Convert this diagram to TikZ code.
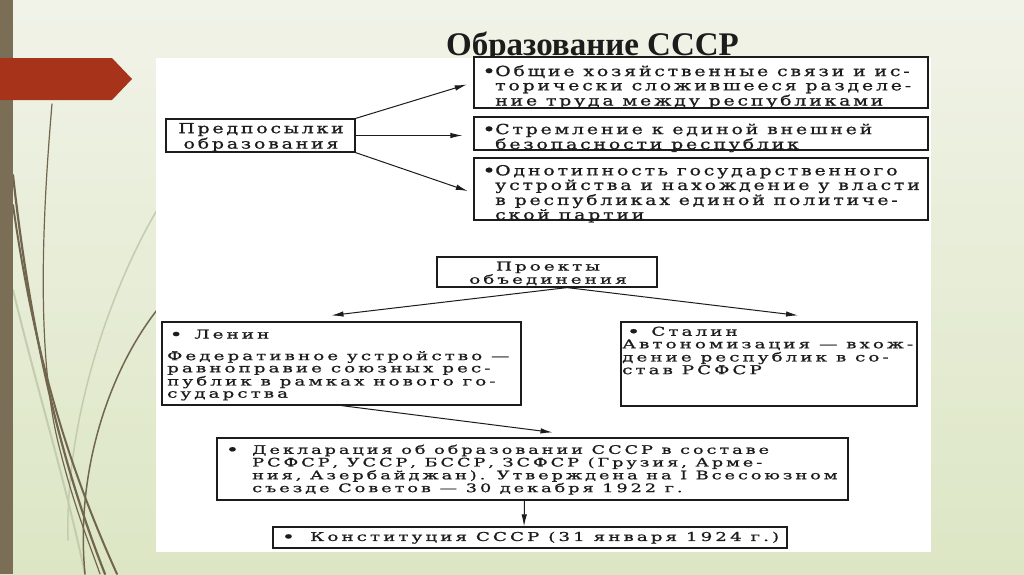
\documentclass[tikz,border=0pt]{standalone}
\usepackage{fontspec}
\setmainfont{DejaVu Serif}
\newfontfamily\titlefont{Liberation Serif}
\newfontfamily\scanA[FakeStretch=1.35,LetterSpace=20,FakeBold=0.9]{DejaVu Serif}
\newfontfamily\scanB[FakeStretch=1.5,LetterSpace=25,FakeBold=0.9]{DejaVu Serif}
\usetikzlibrary{arrows.meta,calc,fit}
\definecolor{bgtop}{HTML}{F1F3E8}
\definecolor{bgbot}{HTML}{DCE6C4}
\definecolor{barc}{HTML}{7A6E56}
\definecolor{redc}{HTML}{A8331B}
\definecolor{grassd}{HTML}{71664D}
\definecolor{grassl}{HTML}{C4CCAE}
\definecolor{ink}{HTML}{1C1C1C}
\newcommand\bigbul{\raisebox{-1pt}{\fontsize{17}{14}\selectfont•}}
\newcommand\bulB{\raisebox{-1pt}{\fontsize{15}{12}\selectfont•}}
\tikzset{
  box/.style={draw=ink, line width=1.2pt, fill=white, inner sep=0pt},
  txtA/.style={anchor=north west, inner sep=0pt, text=ink, font=\scanA\fontsize{14}{#1}\selectfont},
  txtA/.default=14.3,
  txtB/.style={anchor=north west, inner sep=0pt, text=ink, font=\scanB\fontsize{#1}{12.2}\selectfont},
  txtB/.default=12.2,
  arr/.style={draw=ink, line width=1pt, -{Latex[length=12pt,width=5.5pt]}},
  grass/.style={draw=grassd, line cap=round},
  grasslight/.style={draw=grassl, line cap=round}
}
\begin{document}
\begin{tikzpicture}[x=1pt,y=-1pt]
\useasboundingbox (0,0) rectangle (1024,574);
% slide background
\shade[top color=bgtop, bottom color=bgbot] (0,0) rectangle (1024,574);
% decorative grass lines
\draw[grasslight, line width=2pt] (13,290) .. controls (40,400) and (65,480) .. (85,574);
\draw[grasslight, line width=1.5pt] (157,210) .. controls (110,290) and (65,420) .. (68,540);
\draw[grass, line width=1.2pt] (52,104) .. controls (42,220) and (36,360) .. (60,450) .. controls (75,510) and (90,545) .. (100,574);
\draw[grass, line width=2.2pt] (13,175) .. controls (30,330) and (60,460) .. (105,574);
\draw[grass, line width=2pt] (13,205) .. controls (35,360) and (70,470) .. (117,574);
\draw[grass, line width=1.5pt] (157,310) .. controls (110,370) and (75,470) .. (85,574);
% left bar and red marker
\fill[barc] (0,0) rectangle (13,574);
\fill[redc] (0,58) -- (112,58) -- (132,79) -- (112,100) -- (0,100) -- cycle;
% title
\node[font=\titlefont\bfseries\fontsize{33}{36}\selectfont, anchor=base, text=ink, inner sep=0pt] (title) at (592.5,55) {Образование СССР};
% white panel
\fill[white] (156,58) rectangle (931,552);
% boxes
\node[box, fit={(166,119) (355,152)}] (pre) {};
\node[box, fit={(474,57) (928,108)}] (b1) {};
\node[box, fit={(474,117) (928,150)}] (b2) {};
\node[box, fit={(474,158) (928,220)}] (b3) {};
\node[box, fit={(437,257) (657,287)}] (proj) {};
\node[box, fit={(162,322) (521,405)}] (lenin) {};
\node[box, fit={(621,322) (917,406)}] (stalin) {};
\node[box, fit={(217,438) (848,500)}] (decl) {};
\node[box, fit={(273,527) (787,548)}] (const) {};
% connectors
\draw[arr, shorten >=7pt] (pre.north east) -- (b1.west);
\draw[arr, shorten >=11pt] (pre.east) -- (pre.east -| b2.west);
\draw[arr, shorten >=6pt] (pre.south east) -- ($(b3.west)+(0,4)$);
\draw[arr] ($(proj.south)+(20,0)$) -- ($(lenin.north)+(-10,-6)$);
\draw[arr] ($(proj.south)+(20,0)$) -- ($(stalin.north)+(29,-6)$);
\draw[arr] (lenin.south) -- ($(decl.north)+(20,-5)$);
\draw[arr] ($(decl.south)+(-8,0)$) -- ($(const.north)+(-6,0)$);
% texts
\node[txtA=15, anchor=north] (tpre) at (261,122.5) {\begin{tabular}{@{}c@{}}Предпосылки\\образования\end{tabular}};
\node[txtA] (t1) at (495,65) {\begin{tabular}{@{}l@{}}\llap{\bigbul\kern-0.6pt}Общие хозяйственные связи и ис-\\торически сложившееся разделе-\\ние труда между республиками\end{tabular}};
\node[txtA=13.5] (t2) at (495,123.5) {\begin{tabular}{@{}l@{}}\llap{\bigbul\kern-0.6pt}Стремление к единой внешней\\безопасности республик\end{tabular}};
\node[txtA=13.8] (t3) at (495,164.8) {\begin{tabular}{@{}l@{}}\llap{\bigbul\kern-0.6pt}Однотипность государственного\\устройства и нахождение у власти\\в республиках единой политиче-\\ской партии\end{tabular}};
\node[txtB, anchor=north] (tproj) at (548,261.5) {\begin{tabular}{@{}c@{}}Проекты\\объединения\end{tabular}};
\node[txtB] (tlenin) at (167,329.5) {\begin{tabular}{@{}l@{}}\hspace{2.3pt}\bulB\hspace{11.6pt}Ленин\\[8.8pt]Федеративное устройство —\\равноправие союзных рес-\\публик в рамках нового го-\\сударства\end{tabular}};
\node[txtB] (tstalin) at (622,326.5) {\begin{tabular}{@{}l@{}}\hspace{4.8pt}\bulB\hspace{11.1pt}Сталин\\Автономизация — вхож-\\дение республик в со-\\став РСФСР\end{tabular}};
\node[txtB=11.8] (tdecl) at (252,444.5) {\begin{tabular}{@{}l@{}}\llap{\bulB\hspace{13.1pt}}Декларация об образовании СССР в составе\\РСФСР, УССР, БССР, ЗСФСР (Грузия, Арме-\\ния, Азербайджан). Утверждена на I Всесоюзном\\съезде Советов — 30 декабря 1922 г.\end{tabular}};
\node[txtB] (tconst) at (310,531.5) {\begin{tabular}{@{}l@{}}\llap{\bulB\hspace{15.1pt}}Конституция СССР (31 января 1924 г.)\end{tabular}};
\end{tikzpicture}
\end{document}
